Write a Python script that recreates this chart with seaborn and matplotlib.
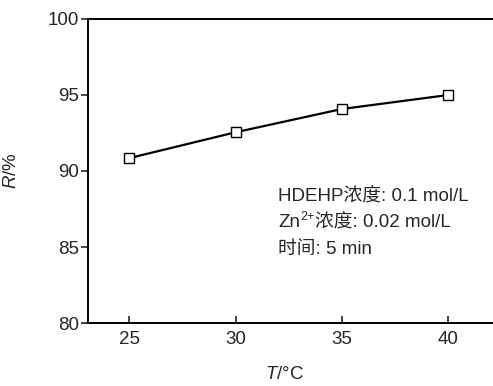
import numpy as np
import pandas as pd
import matplotlib
matplotlib.use("Agg")
import matplotlib.pyplot as plt
import seaborn as sns

# 데이터
temperature = [25, 30, 35, 40]
recovery = [90.85, 92.55, 94.08, 95.0]
x_ticks = [25, 30, 35, 40]
y_ticks = [80, 85, 90, 95, 100]
note_line1 = "HDEHP浓度: 0.1 mol/L"
note_line2 = ("Zn", "2+", "浓度: 0.02 mol/L")
note_line3 = "时间: 5 min"

sns.set_theme(style="ticks")
plt.rcParams['font.family'] = ['Liberation Sans', 'Noto Sans CJK SC', 'DejaVu Sans']
plt.rcParams['mathtext.fontset'] = 'custom'
plt.rcParams['mathtext.rm'] = 'Liberation Sans'
plt.rcParams['mathtext.it'] = 'Liberation Sans:italic'

df = pd.DataFrame({"T": temperature, "R": recovery})

fig = plt.figure(figsize=(4.93, 3.86), dpi=100)
ax = fig.add_axes([0.1785, 0.1632, 0.83, 0.7876])

sns.lineplot(data=df, x="T", y="R", ax=ax, color="black", linewidth=1.6,
             marker="s", markersize=7, markerfacecolor="white",
             markeredgecolor="black", markeredgewidth=1.0)

ax.set_xlim(23.05, 42.3)
ax.set_ylim(80, 100)
ax.set_xticks(x_ticks)
ax.set_yticks(y_ticks)
ax.tick_params(axis="x", direction="in", length=5, width=1.2, labelsize=13.5, pad=6)
ax.tick_params(axis="y", direction="out", length=5, width=1.2, labelsize=13.5, pad=1.5)

for side in ["left", "bottom", "top"]:
    ax.spines[side].set_linewidth(1.4)
    ax.spines[side].set_color("black")
ax.spines["right"].set_visible(False)

ax.set_xlabel("$T$/°C", fontsize=13.5)
ax.set_ylabel("$R$/%", fontsize=13.5)
ax.xaxis.set_label_coords(0.48, -0.14)
ax.yaxis.set_label_coords(-0.165, 0.5)

# 주석 텍스트
fs = 13.5
y0, dy = 0.415, 0.086
ax.text(0.465, y0, note_line1, transform=ax.transAxes, fontsize=fs,
        ha="left", va="center")
t_zn = ax.text(0.465, y0 - dy, note_line2[0], transform=ax.transAxes,
               fontsize=fs, ha="left", va="center")
t_sup = ax.annotate(note_line2[1], xy=(1, 0.5), xycoords=t_zn,
                    fontsize=9, ha="left", va="bottom")
ax.annotate(note_line2[2], xy=(1.0, 0.5), xycoords=t_zn,
            xytext=(t_sup.get_window_extent(fig.canvas.get_renderer()).width + 0.5, 0),
            textcoords="offset pixels", fontsize=fs, ha="left", va="center")
ax.text(0.465, y0 - 2 * dy, note_line3, transform=ax.transAxes, fontsize=fs,
        ha="left", va="center")

fig.savefig("out.png", dpi=100)
